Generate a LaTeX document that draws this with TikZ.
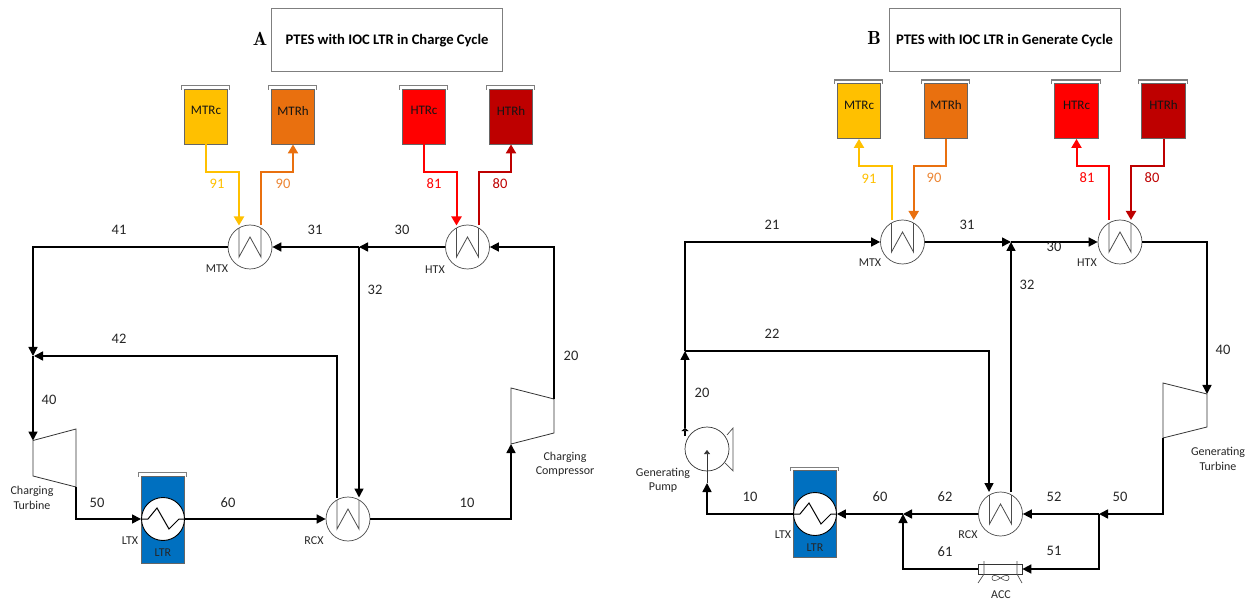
\documentclass[tikz,border=0pt]{standalone}
\usepackage{fontspec}
\setmainfont{Carlito}
\usetikzlibrary{arrows.meta}
\definecolor{mtrccol}{HTML}{FFC000}
\definecolor{mtrhcol}{HTML}{E9700F}
\definecolor{htrccol}{HTML}{FF0000}
\definecolor{htrhcol}{HTML}{BE0000}
\definecolor{ltrcol}{HTML}{0070C0}
\definecolor{greyline}{HTML}{7F7F7F}
\definecolor{txtcol}{HTML}{262626}
\tikzset{
  pipe/.style={line width=1.5pt, black},
  flow/.style={pipe, -{Triangle[length=9pt,width=9pt]}},
  hotpipe/.style={line width=2pt, -{Triangle[length=9pt,width=10pt]}},
  num/.style={font=\fontsize{14.5}{14.5}\selectfont, text=txtcol, inner sep=0pt},
  tag/.style={font=\fontsize{12}{14.5}\selectfont, text=txtcol, inner sep=0pt, align=center},
  titlebox/.style={draw=greyline, line width=1pt, minimum width=231pt, minimum height=63pt, font=\bfseries\fontsize{14.6}{15}\selectfont},
  letter/.style={font=\fontfamily{lmr}\bfseries\fontsize{19}{19}\selectfont, inner sep=0pt},
  tank/.style={draw=black!60, line width=0.8pt, minimum width=43.5pt, minimum height=55pt, inner sep=0pt, text depth=12pt, font=\fontsize{13}{13}\selectfont, text=black!92,
    append after command={(\tikzlastnode.north west) ++(-2.5,1) edge[draw=greyline, line width=1.2pt, to path={-- ++(0,-4) -- ++(48.5,0) -- ++(0,4)}] (\tikzlastnode.north)}},
  hx/.style={draw=black!70, line width=0.7pt, circle, fill=white, minimum size=44pt, inner sep=0pt,
    path picture={\draw[black!70, line width=0.8pt, shift={(path picture bounding box.center)}] (-11,-24) -- (-11,10) -- (0,-10) -- (11,10) -- (11,-24);}},
  lhx/.style={draw=black, line width=0.9pt, circle, fill=white, minimum size=43pt, inner sep=0pt,
    path picture={\draw[black, line width=1pt, shift={(path picture bounding box.center)}] (-22,0) -- (-15,0) -- (-6,-11) -- (6,10) -- (16,0) -- (22,0);}},
  case/.style={draw=black!80, line width=0.8pt}
}
\begin{document}
\begin{tikzpicture}[x=1pt, y=-1pt]
\useasboundingbox (0,0) rectangle (1250,601);

\node[titlebox] (titleA) at (387,40.5) {PTES with IOC LTR in Charge Cycle};
\node[letter] (letterA) at (260,39) {A};
\node[tank, fill=mtrccol, minimum height=55pt] (mtrcA) at (206,116.5) {MTRc};
\node[tank, fill=mtrhcol] (mtrhA) at (293,116.5) {MTRh};
\node[tank, fill=htrccol] (htrcA) at (424,116.5) {HTRc};
\node[tank, fill=htrhcol] (htrhA) at (511,116.5) {HTRh};
\node[hx] (mtxA) at (250,247) {};
\node[hx] (htxA) at (467.5,247) {};
\node[hx] (rcxA) at (348,519) {};
\node[tank, fill=ltrcol, minimum height=87pt] (ltrA) at (163,519.5) {};
\node[lhx] (ltxA) at (163,519) {};
\node[tag] (ltrlabA) at (163,553) {LTR};
\coordinate (mtxAc) at (239,225.5);
\coordinate (mtxAh) at (261,225.5);
\coordinate (htxAc) at (456.5,225.5);
\coordinate (htxAh) at (478.5,225.5);
\coordinate (rcxAh) at (337,497.5);
\coordinate (rcxAc) at (359,497.5);
\coordinate (jA) at (359,247);
\coordinate (jB) at (33,356);
\coordinate (tiA) at (33,440.5);
\coordinate (toA) at (76,487);
\coordinate (ciA) at (511,444);
\coordinate (coA) at (554,399);
\draw[case] (tiA) -- (76,429) -- (toA) -- (33,476) -- cycle;
\draw[case] (ciA) -- (511,388) -- (coA) -- (554,433) -- cycle;
\draw[hotpipe, mtrccol] (mtrcA.south) -- ++(0,28) -| (mtxAc);
\draw[hotpipe, mtrhcol] (mtxAh) |- ++(32,-53) -- (mtrhA.south);
\draw[hotpipe, htrccol] (htrcA.south) -- ++(0,28) -| (htxAc);
\draw[hotpipe, htrhcol] (htxAh) |- ++(32.5,-53) -- (htrhA.south);
\draw[flow] (htxA.west) -- (jA);
\draw[flow] (jA) -- (mtxA.east);
\draw[flow] (mtxA.west) -| (jB);
\draw[flow] (jB) -- (tiA);
\draw[flow] (rcxAh) |- ([xshift=1pt]jB);
\draw[flow] (jA) -- (rcxAc);
\draw[flow] (toA) |- (ltxA.west);
\draw[flow] (ltxA.east) -- (rcxA.west);
\draw[flow] (rcxA.east) -| (ciA);
\draw[flow] (coA) |- (htxA.east);
\node[num, text=mtrccol] (n91A) at (217,184) {91};
\node[num, text=mtrhcol!85!white] (n90A) at (283,184) {90};
\node[num, text=htrccol] (n81A) at (434,184) {81};
\node[num, text=htrhcol] (n80A) at (500,184) {80};
\node[num] (n41A) at (119,230) {41};
\node[num] (n31A) at (315,230) {31};
\node[num] (n30A) at (402,230) {30};
\node[num] (n32A) at (375,290) {32};
\node[num] (n42A) at (119,339) {42};
\node[num] (n40A) at (49,400) {40};
\node[num] (n20A) at (571,356) {20};
\node[num] (n50A) at (97,503) {50};
\node[num] (n60A) at (228,503) {60};
\node[num] (n10A) at (467,503) {10};
\node[tag] (mtxlabA) at (217,269) {MTX};
\node[tag] (htxlabA) at (435,270) {HTX};
\node[tag] (rcxlabA) at (314,541) {RCX};
\node[tag] (ltxlabA) at (130,541) {LTX};
\node[tag] (turblabA) at (32,498) {Charging\\Turbine};
\node[tag] (complabA) at (565,464.5) {Charging\\Compressor};

\node[titlebox] (titleB) at (1004.5,40.5) {PTES with IOC LTR in Generate Cycle};
\node[letter] (letterB) at (874,37.5) {B};
\node[tank, fill=mtrccol] (mtrcB) at (859,111) {MTRc};
\node[tank, fill=mtrhcol] (mtrhB) at (946,111) {MTRh};
\node[tank, fill=htrccol] (htrcB) at (1076.5,111) {HTRc};
\node[tank, fill=htrhcol] (htrhB) at (1163.5,111) {HTRh};
\node[hx] (mtxB) at (902.5,242) {};
\node[hx] (htxB) at (1120,242) {};
\node[hx] (rcxB) at (1000.5,514) {};
\node[tank, fill=ltrcol, minimum height=87pt] (ltrB) at (815,514) {};
\node[lhx] (ltxB) at (815,514) {};
\node[tag] (ltrlabB) at (815,548) {LTR};
\node[draw=black!80, line width=0.7pt, circle, minimum size=44pt, inner sep=0pt] (pumpB) at (707,449) {};
\node[draw=black!80, fill=white, line width=0.7pt, minimum width=44pt, minimum height=10pt, inner sep=0pt] (accB) at (1000,569) {};
\coordinate (mtxBh) at (891.7,220);
\coordinate (mtxBc) at (913.7,220);
\coordinate (htxBh) at (1109,220);
\coordinate (htxBc) at (1131,220);
\coordinate (rcxBc) at (989,492);
\coordinate (rcxBh) at (1011,492);
\coordinate (jC) at (1011,242);
\coordinate (jD) at (685,351);
\coordinate (jE) at (685,428);
\coordinate (jH) at (685,436);
\coordinate (jF) at (903,514);
\coordinate (jG) at (1099,514);
\coordinate (tiB) at (1207,394);
\coordinate (toB) at (1163,438);
\coordinate (pinB) at (707,483);
\coordinate (pmidB) at (707,450);
\draw[case] (tiB) -- (1207,427) -- (toB) -- (1163,383) -- cycle;
\draw[draw=black!70, line width=0.7pt] (727,435) -- (733,428) -- (733,471) -- (725,463);
\draw[black!70, line width=0.7pt] (984,561) -- (984,574) -- (978,583);
\draw[black!70, line width=0.7pt] (1017,561) -- (1017,574) -- (1022,583);
\draw[black!70, line width=0.6pt] (1000.5,578) .. controls (995,574) and (992,575) .. (992,578) .. controls (992,581) and (995,582) .. (1000.5,578) .. controls (1006,574) and (1009,575) .. (1009,578) .. controls (1009,581) and (1006,582) .. (1000.5,578);
\draw[hotpipe, mtrccol] (mtxBh) |- ++(-32.7,-54) -- (mtrcB.south);
\draw[hotpipe, mtrhcol] (mtrhB.south) -- ++(0,27.5) -| (mtxBc);
\draw[hotpipe, htrccol] (htxBh) |- ++(-32.5,-54) -- (htrcB.south);
\draw[hotpipe, htrhcol] (htrhB.south) -- ++(0,27.5) -| (htxBc);
\draw[pipe, -{Triangle[length=3pt,width=7pt]}] (jH) -- (jE);
\draw[flow] (jE) -- (jD);
\draw[flow] (jD) -- (685,242) -- (mtxB.west);
\draw[flow] (jD) -| (rcxBc);
\draw[flow] (mtxB.east) -- (jC);
\draw[flow] (rcxBh) -- (jC);
\draw[flow] (jC) -- (htxB.west);
\draw[flow] (htxB.east) -| (tiB);
\draw[flow] (toB) |- (jG);
\draw[flow] (jG) -- (rcxB.east);
\draw[flow] (jG) |- (accB.east);
\draw[flow] (rcxB.west) -- (jF);
\draw[flow] (accB.west) -| (jF);
\draw[flow] (jF) -- (ltxB.east);
\draw[flow] (ltxB.west) -| (pinB);
\draw[black!80, line width=0.7pt, -{Triangle[length=4pt,width=6pt]}] (pinB) -- (pmidB);
\node[num, text=mtrccol] (n91B) at (869,179) {91};
\node[num, text=mtrhcol!85!white] (n90B) at (934,178) {90};
\node[num, text=htrccol] (n81B) at (1087,178) {81};
\node[num, text=htrhcol] (n80B) at (1152,178) {80};
\node[num] (n21B) at (772,225) {21};
\node[num] (n31B) at (967,225) {31};
\node[num] (n30B) at (1054,247) {30};
\node[num] (n32B) at (1027,285) {32};
\node[num] (n22B) at (772,334) {22};
\node[num] (n40B) at (1223,350) {40};
\node[num] (n20B) at (702,393) {20};
\node[num] (n10B) at (750,497) {10};
\node[num] (n60B) at (880,497) {60};
\node[num] (n62B) at (945,497) {62};
\node[num] (n52B) at (1054,497) {52};
\node[num] (n50B) at (1120,497) {50};
\node[num] (n61B) at (945,552) {61};
\node[num] (n51B) at (1054,551) {51};
\node[tag] (mtxlabB) at (870,263) {MTX};
\node[tag] (htxlabB) at (1087,263) {HTX};
\node[tag] (rcxlabB) at (968,535) {RCX};
\node[tag] (ltxlabB) at (783,535) {LTX};
\node[tag] (acclabB) at (1001,595) {ACC};
\node[tag] (pumplabB) at (663,480.5) {Generating\\Pump};
\node[tag] (turblabB) at (1218,459) {Generating\\Turbine};
\end{tikzpicture}
\end{document}
